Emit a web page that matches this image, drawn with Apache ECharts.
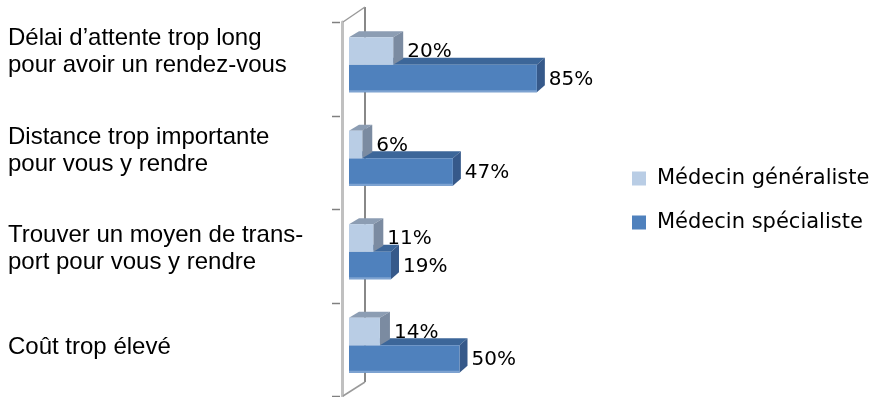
<!DOCTYPE html>
<html>
<head>
    <meta charset="utf-8">
    <title>Obstacles</title>
    <style type="text/css">
        html, body { margin: 0; padding: 0; background: #ffffff; }
        #main { width: 877px; height: 397px; }
    </style>
    <script src="https://cdn.jsdelivr.net/npm/echarts/dist/echarts.min.js"></script>
</head>
<body>
    <div id="main"></div>
    <script type="text/javascript">
// données
var categories = [
    'Délai d’attente trop long\npour avoir un rendez-vous',
    'Distance trop importante\npour vous y rendre',
    'Trouver un moyen de trans-\nport pour vous y rendre',
    'Coût trop élevé'
];
var seriesNames = ['Médecin généraliste', 'Médecin spécialiste'];
var generaliste = [20, 6, 11, 14];
var specialiste = [85, 47, 19, 50];

var myChart = echarts.init(document.getElementById('main'));

// couleurs : face avant, dessus, côté
var faces = [
    { front: '#b9cde5', top: '#8c9db3', side: '#7b8ba1', edge: '#b9cde5' },
    { front: '#4f81bd', top: '#3c6699', side: '#36598a', edge: '#7ea3d1' }
];

// barre 3D (sIdx 0 = au-dessus, 1 = en dessous)
function bar3d(sIdx) {
    return function (params, api) {
        var v = api.value(0);
        var cat = api.value(1);
        var p0 = api.coord([0, cat]);
        var p1 = api.coord([v, cat]);
        var band = api.size([0, 1])[1];
        var h = band * 0.295;
        var ddx = sIdx === 0 ? 10 : 8;
        var ddy = sIdx === 0 ? 6 : 7;
        var x = p0[0] + 7;
        var w = p1[0] - p0[0];
        var y = p0[1] - 4 + (sIdx === 0 ? -h : 0);
        var f = faces[sIdx];
        return {
            type: 'group',
            children: [
                { type: 'polygon', shape: { points: [[x, y], [x + ddx, y - ddy], [x + w + ddx, y - ddy], [x + w, y]] }, style: { fill: f.top } },
                { type: 'polygon', shape: { points: [[x + w, y], [x + w + ddx, y - ddy], [x + w + ddx, y + h - ddy], [x + w, y + h]] }, style: { fill: f.side } },
                { type: 'rect', shape: { x: x, y: y, width: w, height: h }, style: { fill: f.front } },
                { type: 'rect', shape: { x: x, y: y + h - 2, width: w, height: 2 }, style: { fill: f.edge } },
                { type: 'text', style: {
                    x: x + w + ddx + 4, y: y + h / 2 + 1,
                    text: v + '%', fill: '#000',
                    font: '20px "DejaVu Sans"',
                    verticalAlign: 'middle', align: 'left'
                } }
            ]
        };
    };
}

// cadre : mur du fond, diagonales et graduations
function frame(params, api) {
    var c0 = api.coord([0, 0]);
    var band = api.size([0, 1])[1];
    var top = c0[1] - band / 2;
    var bottom = top + band * categories.length;
    var x = c0[0] + 1;
    var bx = x + 22;
    var children = [
        { type: 'line', shape: { x1: bx, y1: top - 15, x2: bx, y2: bottom - 14 }, style: { stroke: '#888888', lineWidth: 2 } },
        { type: 'line', shape: { x1: x, y1: top, x2: bx, y2: top - 15 }, style: { stroke: '#9a9a9a', lineWidth: 1.5 } },
        { type: 'line', shape: { x1: x, y1: bottom, x2: bx, y2: bottom - 14 }, style: { stroke: '#9a9a9a', lineWidth: 1.5 } }
    ];
    for (var i = 0; i <= categories.length; i++) {
        var ty = Math.round(top + band * i) + 0.5;
        children.push({ type: 'line', shape: { x1: x - 11, y1: ty, x2: x - 3, y2: ty }, style: { stroke: '#808080', lineWidth: 1.5 } });
    }
    return { type: 'group', children: children };
}

var option = {
    backgroundColor: '#ffffff',
    animation: false,
    grid: [
        { left: 342, top: 22, width: 221, height: 374 },
        // grille des libellés de catégorie
        { left: 342, top: 3, width: 221, height: 395 }
    ],
    legend: {
        data: seriesNames,
        orient: 'vertical',
        left: 632,
        top: 168,
        icon: 'rect',
        itemWidth: 14,
        itemHeight: 14,
        itemGap: 23,
        padding: 0,
        selectedMode: false,
        textStyle: { fontFamily: 'DejaVu Sans', fontSize: 21, color: '#000', padding: [0, 0, 0, 6] }
    },
    xAxis: [
        { type: 'value', min: 0, max: 100, show: false, gridIndex: 0 },
        { type: 'value', min: 0, max: 100, show: false, gridIndex: 1 }
    ],
    yAxis: [
        {
            type: 'category',
            inverse: true,
            gridIndex: 0,
            data: categories,
            axisLine: { lineStyle: { color: '#c0c0c0', width: 3 } },
            axisTick: { show: false },
            axisLabel: { show: false },
            splitLine: { show: false }
        },
        {
            type: 'category',
            inverse: true,
            gridIndex: 1,
            data: categories,
            axisLine: { show: false },
            axisTick: { show: false },
            axisLabel: {
                align: 'left',
                margin: 334,
                fontFamily: 'Liberation Sans',
                fontSize: 24,
                lineHeight: 27,
                color: '#000'
            },
            splitLine: { show: false }
        }
    ],
    series: [
        {
            type: 'custom',
            name: 'frame',
            renderItem: frame,
            data: [[0, 0]],
            z: 1,
            silent: true
        },
        {
            type: 'custom',
            name: seriesNames[1],
            renderItem: bar3d(1),
            itemStyle: { color: '#4f81bd' },
            data: specialiste.map(function (v, i) { return [v, i]; }),
            z: 2
        },
        {
            type: 'custom',
            name: seriesNames[0],
            renderItem: bar3d(0),
            itemStyle: { color: '#b9cde5' },
            data: generaliste.map(function (v, i) { return [v, i]; }),
            z: 3
        }
    ]
};

myChart.setOption(option);
    </script>
</body>
</html>
